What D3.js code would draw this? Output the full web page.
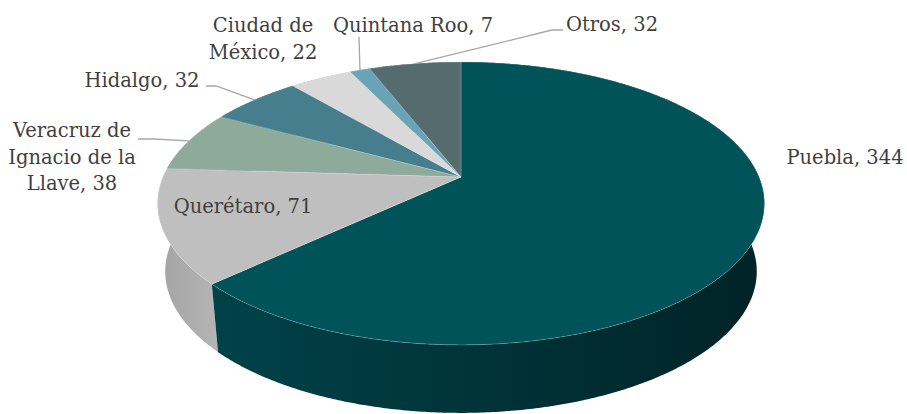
<!DOCTYPE html>
<html>
<head>
<meta charset="utf-8">
<script src="https://cdn.jsdelivr.net/npm/d3@7"></script>
<style>
  body { margin: 0; background: #fff; }
  svg { display: block; }
  .lbl { font-family: "DejaVu Serif", serif; font-size: 19.5px; fill: #3f3f3f; }
</style>
</head>
<body>
<div id="chart"></div>
<script>
const width = 907;
const height = 414;

// data
const states = ["Puebla", "Querétaro", "Veracruz de Ignacio de la Llave", "Hidalgo", "Ciudad de México", "Quintana Roo", "Otros"];
const counts = [344, 71, 38, 32, 22, 7, 32];
const colors = ["#01535a", "#bfbfbf", "#8eaa9b", "#467e8e", "#d9d9d9", "#68a3b7", "#546c6e"];

// label placement (lines, centre x, first baseline, optional leader elbow)
const labelLayout = [
  { lines: ["Puebla, 344"], x: 845, y: 164 },
  { lines: ["Querétaro, 71"], x: 243, y: 213 },
  { lines: ["Veracruz de", "Ignacio de la", "Llave, 38"], x: 72, y: 137, leader: [[138, 139], [153, 139]] },
  { lines: ["Hidalgo, 32"], x: 142, y: 87, leader: [[206, 86], [216, 86]] },
  { lines: ["Ciudad de", "México, 22"], x: 263, y: 32 },
  { lines: ["Quintana Roo, 7"], x: 413, y: 32, leader: [[359, 37]] },
  { lines: ["Otros, 32"], x: 612, y: 31, leader: [[563, 30], [552, 30]] }
];

// perspective pie geometry
const cx = 461, cy = 177, kx = 298, ky = 136.5, persp = 0.187, depth = 68, bottomScale = 0.975;

function project(a, bottom) {
  const X = Math.sin(a), Z = Math.cos(a);
  const s = 1 / (1 + persp * Z);
  const sx = bottom ? bottomScale : 1;
  return [cx + kx * X * s * sx, cy - ky * Z * s + (bottom ? depth : 0)];
}

function rim(a0, a1, bottom) {
  const n = Math.max(2, Math.ceil(Math.abs(a1 - a0) / (Math.PI / 360)));
  return d3.range(n + 1).map(i => project(a0 + (a1 - a0) * i / n, bottom));
}

const svg = d3.select("#chart").append("svg")
  .attr("width", width)
  .attr("height", height);

const defs = svg.append("defs");
const sideGrads = [
  ["side0", "#00434a", "#002326", 200, 765],
  ["side1", "#a3a3a3", "#b4b4b4", 158, 215]
];
sideGrads.forEach(([id, c0, c1, x1, x2]) => {
  const g = defs.append("linearGradient").attr("id", id)
    .attr("gradientUnits", "userSpaceOnUse")
    .attr("x1", x1).attr("x2", x2).attr("y1", 0).attr("y2", 0);
  g.append("stop").attr("offset", "0%").attr("stop-color", c0);
  g.append("stop").attr("offset", "100%").attr("stop-color", c1);
});

const pie = d3.pie().sort(null).value(d => d)
  .startAngle(0).endAngle(2 * Math.PI);
const arcs = pie(counts);

const line = d3.line();

// side walls, back to front
const sides = arcs.slice().sort((a, b) =>
  Math.cos((b.startAngle + b.endAngle) / 2) - Math.cos((a.startAngle + a.endAngle) / 2));

svg.append("g").selectAll("path")
  .data(sides)
  .join("path")
  .attr("d", d => line(rim(d.startAngle, d.endAngle, false).concat(rim(d.endAngle, d.startAngle, true))) + "Z")
  .attr("fill", d => d.index < 2 ? `url(#side${d.index})` : d3.color(colors[d.index]).darker(0.8));

// top faces
svg.append("g").selectAll("path")
  .data(arcs)
  .join("path")
  .attr("d", d => line([[cx, cy]].concat(rim(d.startAngle, d.endAngle, false))) + "Z")
  .attr("fill", d => colors[d.index])
  .attr("stroke", "#ffffff")
  .attr("stroke-opacity", 0.35)
  .attr("stroke-width", 0.6)
  .attr("stroke-linejoin", "round");

// leader lines
svg.append("g").selectAll("path")
  .data(arcs.filter(d => labelLayout[d.index].leader))
  .join("path")
  .attr("d", d => line(labelLayout[d.index].leader.concat([project((d.startAngle + d.endAngle) / 2, false)])))
  .attr("fill", "none")
  .attr("stroke", "#a6a6a6")
  .attr("stroke-width", 1.3);

// labels
const labels = svg.append("g").selectAll("text")
  .data(arcs)
  .join("text")
  .attr("class", "lbl")
  .attr("text-anchor", "middle")
  .attr("x", d => labelLayout[d.index].x)
  .attr("y", d => labelLayout[d.index].y);

labels.selectAll("tspan")
  .data(d => labelLayout[d.index].lines.map(t => ({ t, x: labelLayout[d.index].x })))
  .join("tspan")
  .attr("x", d => d.x)
  .attr("dy", (d, i) => i === 0 ? 0 : 26.5)
  .text(d => d.t);
</script>
</body>
</html>
